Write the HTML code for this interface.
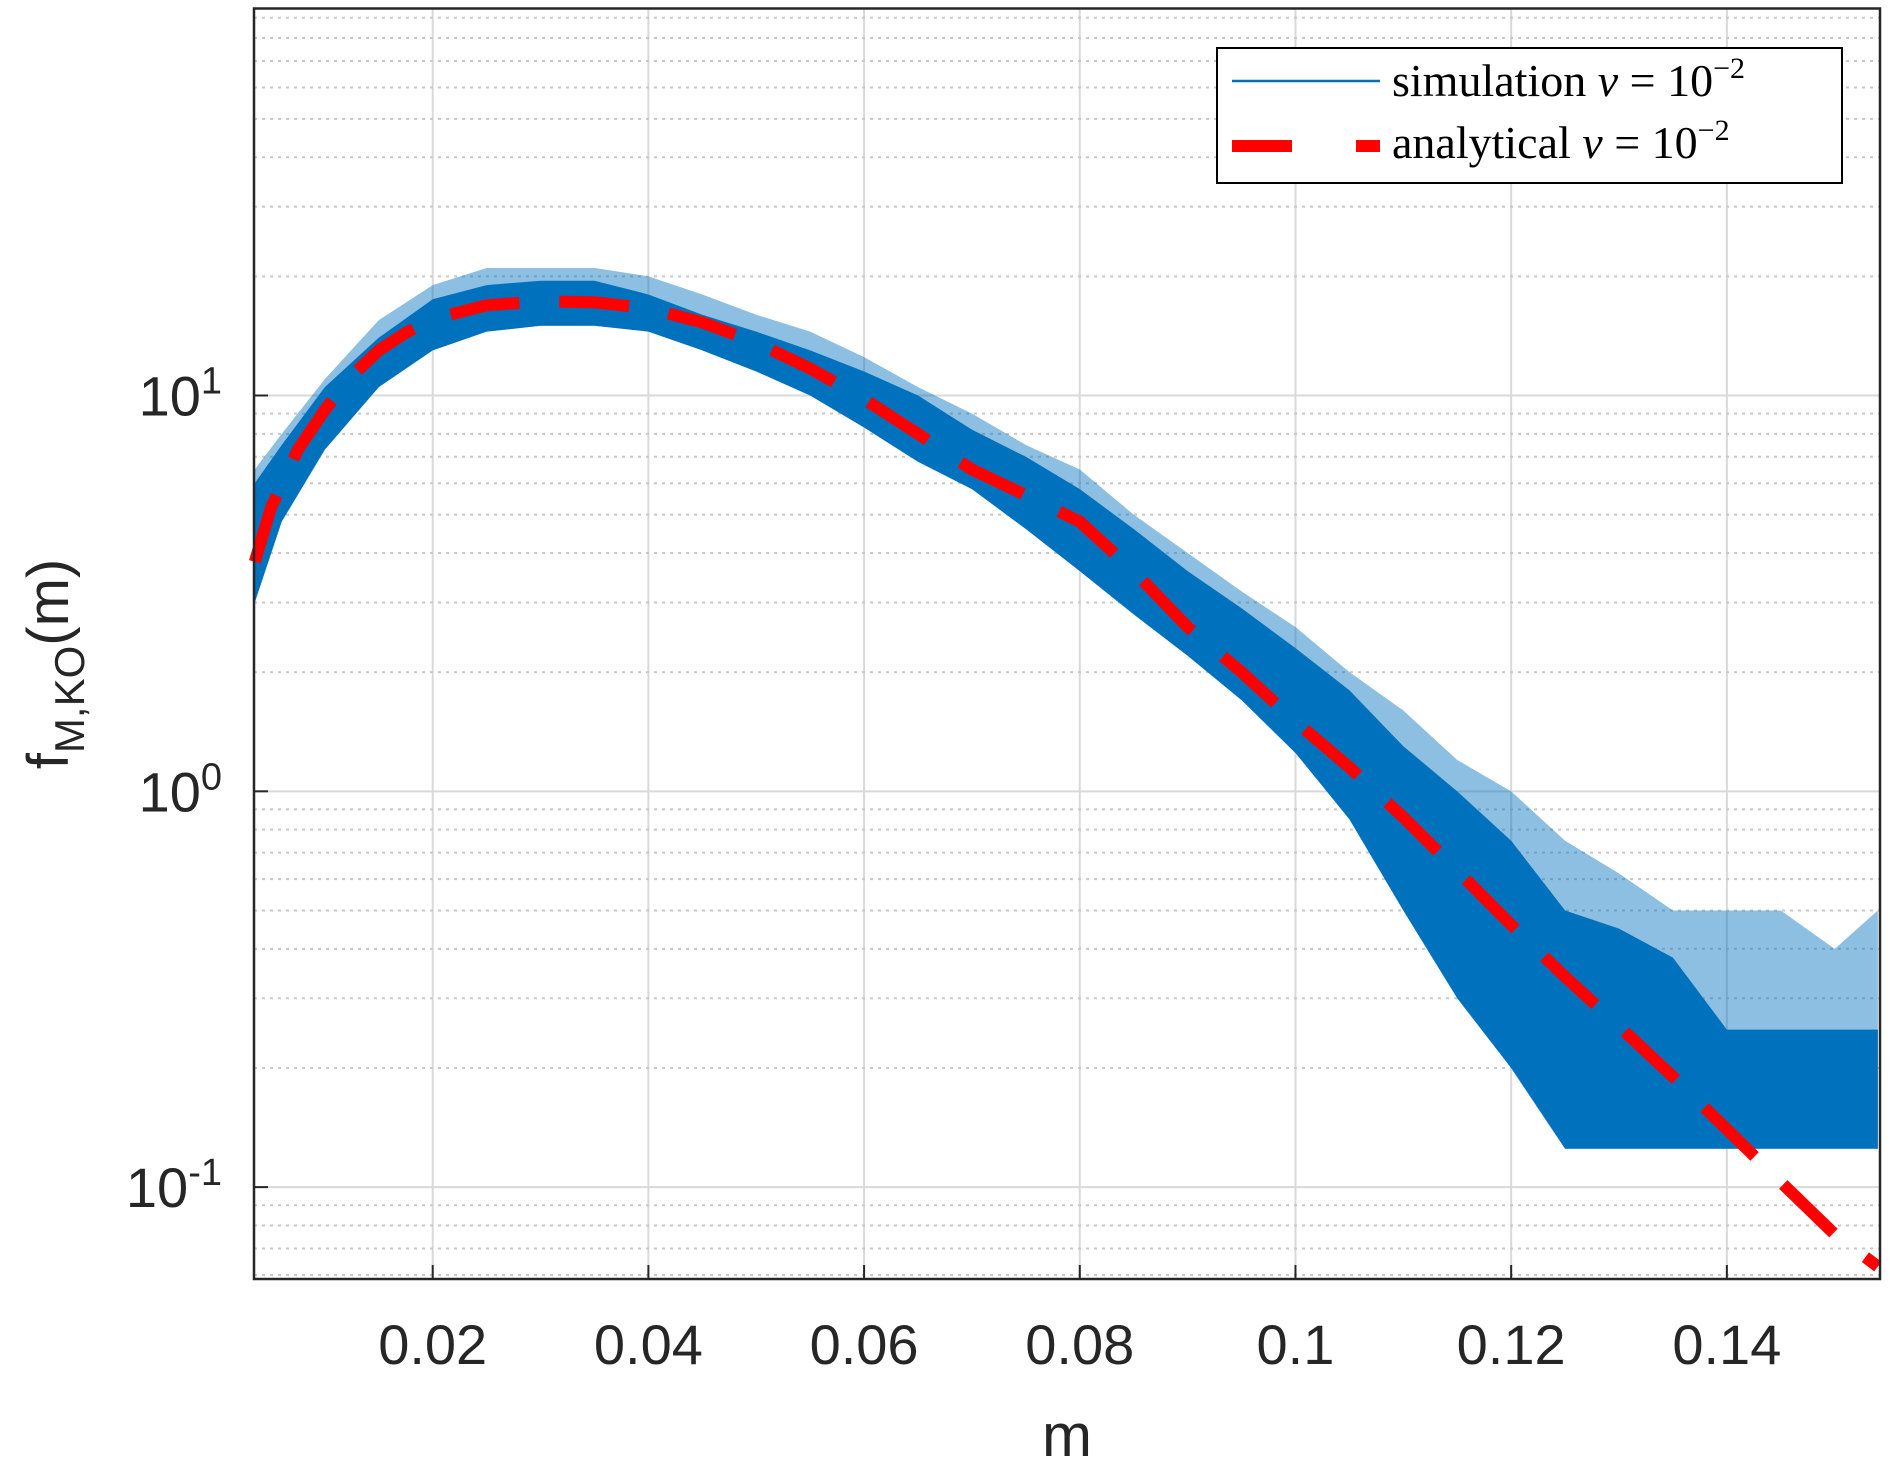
<!DOCTYPE html>
<html><head><meta charset="utf-8"><style>
html,body{margin:0;padding:0;background:#fff;}
svg{display:block;}
</style></head><body>
<svg id="chart" width="1890" height="1464" xmlns="http://www.w3.org/2000/svg">
<rect width="1890" height="1464" fill="#fff"/>
<g id="grid"></g>
<g id="series"></g>
<g id="axes"></g>
<g id="legend">
  <rect x="1217" y="48" width="625" height="135" fill="#fff" stroke="#000" stroke-width="2"/>
  <line x1="1232" y1="81" x2="1380" y2="81" stroke="#0072BD" stroke-width="2.5"/>
  <text x="1392" y="96" font-family="Liberation Serif, serif" font-size="46">simulation <tspan font-style="italic">ν</tspan> = 10<tspan dy="-18" font-size="30">−2</tspan></text>
  <line x1="1232" y1="146" x2="1380" y2="146" stroke="#FF0000" stroke-width="12" stroke-dasharray="60,64"/>
  <text x="1392" y="158" font-family="Liberation Serif, serif" font-size="46">analytical <tspan font-style="italic">ν</tspan> = 10<tspan dy="-18" font-size="30">−2</tspan></text>
</g>
<text x="1067" y="1456" text-anchor="middle" font-family="Liberation Sans, sans-serif" font-size="60" fill="#262626">m</text>
<text transform="translate(68,664) rotate(-90)" text-anchor="middle" font-family="Liberation Sans, sans-serif" font-size="58" fill="#262626">f<tspan dy="16" font-size="42">M,KO</tspan><tspan dy="-16">(m)</tspan></text>
</svg>
<script>
const xTicks = [0.02, 0.04, 0.06, 0.08, 0.1, 0.12, 0.14];
const xTickLabels = ["0.02", "0.04", "0.06", "0.08", "0.1", "0.12", "0.14"];
const yDecades = [-1, 0, 1];
const yTickLabels = ["10", "10", "10"];
const yTickExps = ["-1", "0", "1"];
const analyticalM = [0.0035,0.005,0.0075,0.01,0.0125,0.015,0.0175,0.02,0.025,0.03,0.035,0.04,0.045,0.05,0.055,0.06,0.065,0.07,0.075,0.08,0.085,0.09,0.095,0.1,0.105,0.11,0.115,0.12,0.125,0.13,0.135,0.14,0.145,0.15,0.154];
const analyticalF = [3.8,5.2,7.3,9.2,11.2,13.0,14.4,15.6,16.9,17.3,17.2,16.6,15.3,13.6,11.7,9.8,8.0,6.5,5.6,4.8,3.6,2.6,2.0,1.5,1.15,0.86,0.63,0.46,0.34,0.255,0.19,0.14,0.103,0.076,0.063];
const simM = [0.0035,0.006,0.01,0.015,0.02,0.025,0.03,0.035,0.04,0.045,0.05,0.055,0.06,0.065,0.07,0.075,0.08,0.085,0.09,0.095,0.1,0.105,0.11,0.115,0.12,0.125,0.13,0.135,0.14,0.145,0.15,0.154];
const simLow = [3.0,4.8,7.3,10.5,13,14.5,15,15,14.5,13,11.5,10,8.3,6.8,5.8,4.6,3.6,2.8,2.2,1.7,1.25,0.85,0.5,0.3,0.2,0.125,0.125,0.125,0.125,0.125,0.125,0.125];
const simHigh = [6.0,7.5,10.5,14,17.5,19,19.5,19.5,18,16,14.5,13,11.5,10,8.2,7,5.8,4.6,3.6,2.9,2.3,1.8,1.3,1.0,0.75,0.5,0.45,0.38,0.25,0.25,0.25,0.25];
const simSpike = [6.5,8,11,15.5,19,21,21,21,20,18,16,14.5,12.5,10.5,9,7.5,6.5,5,4,3.2,2.6,2.0,1.6,1.2,1.0,0.75,0.62,0.5,0.5,0.5,0.4,0.5];

const X0 = 254, X1 = 1880, Y0 = 8.5, Y1 = 1279;
const xmin = 0.00343, xmax = 0.1542, lmin = Math.log10(0.0586), lmax = Math.log10(95);
const xs = v => X0 + (v - xmin) / (xmax - xmin) * (X1 - X0);
const ys = v => Y1 - (Math.log10(v) - lmin) / (lmax - lmin) * (Y1 - Y0);
const NS = "http://www.w3.org/2000/svg";
function mk(tag, attrs, parent) { const e = document.createElementNS(NS, tag); for (const k in attrs) e.setAttribute(k, attrs[k]); parent.appendChild(e); return e; }
const grid = document.getElementById('grid'), series = document.getElementById('series'), axes = document.getElementById('axes');

xTicks.forEach(t => {
  const l = mk('line', {x1: xs(t), x2: xs(t), y1: Y0, y2: Y1, stroke: '#d9d9d9', 'stroke-width': 2}, grid);
  
  
});
for (let d = -2; d <= 1; d++) {
  for (let k = 1; k <= 9; k++) {
    const v = k * Math.pow(10, d);
    if (v < 0.0586 || v > 95) continue;
    const y = ys(v);
    const l = mk('line', {x1: X0, x2: X1, y1: y, y2: y, stroke: k === 1 ? '#d9d9d9' : '#c8c8c8', 'stroke-width': 2, 'stroke-dasharray': k === 1 ? 'none' : '3,5'}, grid);
    
    
  }
}

function band(lo, hi, op, name) {
  let pts = simM.map((m, i) => xs(m) + ',' + ys(hi[i]));
  for (let i = simM.length - 1; i >= 0; i--) pts.push(xs(simM[i]) + ',' + ys(lo[i]));
  const b = mk('polygon', {points: pts.join(' '), fill: '#0072BD', stroke: 'none', 'fill-opacity': op}, series);
  
  
}
band(simLow, simSpike, 0.45, 'simulation-spikes');
band(simLow, simHigh, 1, 'simulation-series');

const ana = mk('polyline', {points: analyticalM.map((m, i) => xs(m) + ',' + ys(analyticalF[i])).join(' '), fill: 'none', stroke: '#FF0000', 'stroke-width': 12, 'stroke-dasharray': '70,40'}, series);



const box = mk('rect', {x: X0, y: Y0, width: X1 - X0, height: Y1 - Y0, fill: 'none', stroke: '#262626', 'stroke-width': 2.5}, axes);


xTicks.forEach((t, i) => {
  const tk = mk('line', {x1: xs(t), x2: xs(t), y1: Y1, y2: Y1 - 14, stroke: '#262626', 'stroke-width': 2}, axes);
  
  
  const tx = mk('text', {x: xs(t), y: 1364, 'text-anchor': 'middle', 'font-family': 'Liberation Sans, sans-serif', 'font-size': 56, fill: '#262626'}, axes);
  tx.textContent = xTickLabels[i];
  
  
});
yDecades.forEach((d, i) => {
  const y = ys(Math.pow(10, d));
  const tk = mk('line', {x1: X0, x2: X0 + 14, y1: y, y2: y, stroke: '#262626', 'stroke-width': 2}, axes);
  
  
  const tx = mk('text', {x: 222, y: y + 20, 'text-anchor': 'end', 'font-family': 'Liberation Sans, sans-serif', 'font-size': 56, fill: '#262626'}, axes);
  
  
  tx.textContent = yTickLabels[i];
  const sup = mk('tspan', {dy: -22, 'font-size': 38}, tx);
  sup.textContent = yTickExps[i];
});
</script>
</body></html>
